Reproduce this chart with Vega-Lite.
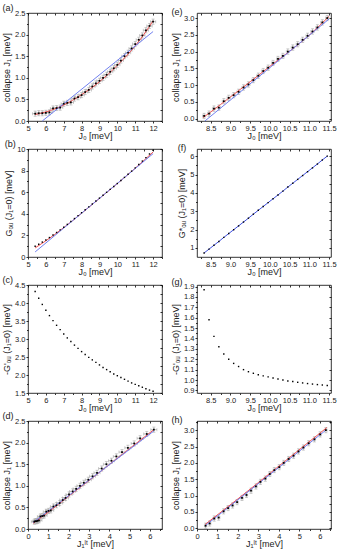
{
"$schema": "https://vega.github.io/schema/vega-lite/v6.json",
"padding": {"left": 2, "top": 3, "right": 2, "bottom": 2},
"columns": 2,
"spacing": {"row": 28, "column": 35},
"bounds": "flush",
"config": {
 "font": "Liberation Sans",
 "view": {"stroke": "#000", "strokeWidth": 0.8},
 "axis": {"grid": false, "domain": false, "tickColor": "#000", "tickSize": 2, "tickWidth": 0.8, "labelFontSize": 7.5, "labelColor": "#222", "labelPadding": 1, "titleFontSize": 9, "titleFontWeight": "normal", "titleColor": "#222", "labelFlush": false, "labelOverlap": false},
 "axisX": {"titlePadding": 0},
 "axisY": {"titlePadding": 3},
 "title": {"anchor": "start", "frame": "bounds", "fontSize": 9, "fontWeight": "normal", "offset": -4, "color": "#222"}
},
"datasets": {
 "a_pts": [
  {"x":5.4,"y":0.17,"ex":0.15,"ey":0.06},{"x":5.6,"y":0.18,"ex":0.15,"ey":0.06},{"x":5.8,"y":0.18,"ex":0.15,"ey":0.06},{"x":6.0,"y":0.19,"ex":0.15,"ey":0.06},{"x":6.2,"y":0.2,"ex":0.15,"ey":0.06},{"x":6.4,"y":0.29,"ex":0.15,"ey":0.06},{"x":6.6,"y":0.3,"ex":0.15,"ey":0.06},{"x":6.8,"y":0.31,"ex":0.15,"ey":0.06},{"x":7.0,"y":0.4,"ex":0.15,"ey":0.06},{"x":7.2,"y":0.42,"ex":0.15,"ey":0.06},{"x":7.4,"y":0.43,"ex":0.15,"ey":0.06},{"x":7.6,"y":0.52,"ex":0.15,"ey":0.06},{"x":7.8,"y":0.55,"ex":0.15,"ey":0.06},{"x":8.0,"y":0.6,"ex":0.15,"ey":0.06},{"x":8.2,"y":0.67,"ex":0.15,"ey":0.06},{"x":8.4,"y":0.72,"ex":0.15,"ey":0.06},{"x":8.6,"y":0.8,"ex":0.15,"ey":0.06},{"x":8.8,"y":0.87,"ex":0.15,"ey":0.06},{"x":9.0,"y":0.93,"ex":0.15,"ey":0.06},{"x":9.2,"y":1.0,"ex":0.15,"ey":0.06},{"x":9.4,"y":1.07,"ex":0.15,"ey":0.06},{"x":9.6,"y":1.14,"ex":0.15,"ey":0.06},{"x":9.8,"y":1.22,"ex":0.15,"ey":0.06},{"x":10.0,"y":1.3,"ex":0.15,"ey":0.06},{"x":10.2,"y":1.4,"ex":0.15,"ey":0.06},{"x":10.4,"y":1.5,"ex":0.15,"ey":0.06},{"x":10.6,"y":1.58,"ex":0.15,"ey":0.06},{"x":10.8,"y":1.68,"ex":0.15,"ey":0.06},{"x":11.0,"y":1.78,"ex":0.15,"ey":0.06},{"x":11.2,"y":1.88,"ex":0.15,"ey":0.06},{"x":11.4,"y":1.98,"ex":0.15,"ey":0.06},{"x":11.6,"y":2.1,"ex":0.15,"ey":0.06},{"x":11.8,"y":2.2,"ex":0.15,"ey":0.06},{"x":12.0,"y":2.3,"ex":0.15,"ey":0.06}
 ],
 "a_red": [{"x":5.4,"y":0.15},{"x":6.0,"y":0.21},{"x":6.5,"y":0.28},{"x":7.0,"y":0.37},{"x":7.5,"y":0.48},{"x":8.0,"y":0.61},{"x":8.5,"y":0.75},{"x":9.0,"y":0.91},{"x":9.5,"y":1.09},{"x":10.0,"y":1.29},{"x":10.5,"y":1.5},{"x":11.0,"y":1.74},{"x":11.5,"y":2.01},{"x":12.0,"y":2.32}],
 "a_blue": [{"x":5.8,"y":0.0},{"x":12.0,"y":2.07}],
 "b_pts": [
  {"x":5.4,"y":1.0},{"x":5.6,"y":1.18},{"x":5.8,"y":1.38},{"x":6.0,"y":1.58},{"x":6.2,"y":1.8},{"x":6.4,"y":2.03},{"x":6.6,"y":2.27},{"x":6.8,"y":2.51},{"x":7.0,"y":2.75},{"x":7.2,"y":3.02},{"x":7.4,"y":3.29},{"x":7.6,"y":3.56},{"x":7.8,"y":3.83},{"x":8.0,"y":4.1},{"x":8.2,"y":4.37},{"x":8.4,"y":4.64},{"x":8.6,"y":4.91},{"x":8.8,"y":5.18},{"x":9.0,"y":5.45},{"x":9.2,"y":5.72},{"x":9.4,"y":5.99},{"x":9.6,"y":6.26},{"x":9.8,"y":6.53},{"x":10.0,"y":6.8},{"x":10.2,"y":7.08},{"x":10.4,"y":7.37},{"x":10.6,"y":7.66},{"x":10.8,"y":7.95},{"x":11.0,"y":8.25},{"x":11.2,"y":8.56},{"x":11.4,"y":8.88},{"x":11.6,"y":9.2},{"x":11.8,"y":9.54},{"x":12.0,"y":9.88}
 ],
 "b_red": [{"x":5.4,"y":0.84},{"x":6.0,"y":1.5},{"x":7.0,"y":2.72},{"x":8.0,"y":4.05},{"x":9.0,"y":5.42},{"x":10.0,"y":6.8},{"x":11.0,"y":8.22},{"x":12.0,"y":9.72}],
 "b_blue": [{"x":5.4,"y":0.47},{"x":12.0,"y":9.57}],
 "c_pts": [
  {"x":5.4,"y":4.32},{"x":5.6,"y":4.13},{"x":5.8,"y":3.96},{"x":6.0,"y":3.8},{"x":6.2,"y":3.65},{"x":6.4,"y":3.51},{"x":6.6,"y":3.38},{"x":6.8,"y":3.26},{"x":7.0,"y":3.14},{"x":7.2,"y":3.03},{"x":7.4,"y":2.93},{"x":7.6,"y":2.83},{"x":7.8,"y":2.74},{"x":8.0,"y":2.65},{"x":8.2,"y":2.57},{"x":8.4,"y":2.49},{"x":8.6,"y":2.42},{"x":8.8,"y":2.35},{"x":9.0,"y":2.28},{"x":9.2,"y":2.21},{"x":9.4,"y":2.15},{"x":9.6,"y":2.09},{"x":9.8,"y":2.03},{"x":10.0,"y":1.98},{"x":10.2,"y":1.93},{"x":10.4,"y":1.88},{"x":10.6,"y":1.83},{"x":10.8,"y":1.78},{"x":11.0,"y":1.74},{"x":11.2,"y":1.7},{"x":11.4,"y":1.66},{"x":11.6,"y":1.62},{"x":11.8,"y":1.58},{"x":12.0,"y":1.55}
 ],
 "d_pts": [
  {"x":0.31,"y":0.17,"ex":0.15,"ey":0.06},{"x":0.36,"y":0.18,"ex":0.15,"ey":0.06},{"x":0.42,"y":0.18,"ex":0.15,"ey":0.06},{"x":0.47,"y":0.19,"ex":0.15,"ey":0.06},{"x":0.54,"y":0.2,"ex":0.15,"ey":0.06},{"x":0.61,"y":0.29,"ex":0.15,"ey":0.06},{"x":0.7,"y":0.3,"ex":0.15,"ey":0.06},{"x":0.79,"y":0.31,"ex":0.15,"ey":0.06},{"x":0.9,"y":0.4,"ex":0.15,"ey":0.06},{"x":1.01,"y":0.42,"ex":0.15,"ey":0.06},{"x":1.12,"y":0.43,"ex":0.15,"ey":0.06},{"x":1.25,"y":0.52,"ex":0.15,"ey":0.06},{"x":1.4,"y":0.55,"ex":0.15,"ey":0.06},{"x":1.56,"y":0.6,"ex":0.15,"ey":0.06},{"x":1.71,"y":0.67,"ex":0.15,"ey":0.06},{"x":1.85,"y":0.72,"ex":0.15,"ey":0.06},{"x":2.02,"y":0.8,"ex":0.15,"ey":0.06},{"x":2.2,"y":0.87,"ex":0.15,"ey":0.06},{"x":2.37,"y":0.93,"ex":0.15,"ey":0.06},{"x":2.56,"y":1.0,"ex":0.15,"ey":0.06},{"x":2.75,"y":1.07,"ex":0.15,"ey":0.06},{"x":2.97,"y":1.14,"ex":0.15,"ey":0.06},{"x":3.18,"y":1.22,"ex":0.15,"ey":0.06},{"x":3.4,"y":1.3,"ex":0.15,"ey":0.06},{"x":3.63,"y":1.4,"ex":0.15,"ey":0.06},{"x":3.86,"y":1.5,"ex":0.15,"ey":0.06},{"x":4.11,"y":1.58,"ex":0.15,"ey":0.06},{"x":4.35,"y":1.68,"ex":0.15,"ey":0.06},{"x":4.63,"y":1.78,"ex":0.15,"ey":0.06},{"x":4.92,"y":1.88,"ex":0.15,"ey":0.06},{"x":5.23,"y":1.98,"ex":0.15,"ey":0.06},{"x":5.52,"y":2.1,"ex":0.15,"ey":0.06},{"x":5.85,"y":2.2,"ex":0.15,"ey":0.06},{"x":6.2,"y":2.3,"ex":0.15,"ey":0.06}
 ],
 "d_red": [{"x":0.25,"y":0.13},{"x":1.0,"y":0.39},{"x":2.0,"y":0.76},{"x":3.0,"y":1.12},{"x":4.0,"y":1.49},{"x":5.0,"y":1.86},{"x":6.2,"y":2.3}],
 "d_blue": [{"x":0.25,"y":0.15},{"x":6.2,"y":2.27}],
 "e_pts": [
  {"x":8.33,"y":0.08,"ex":0.04,"ey":0.08},{"x":8.455,"y":0.15,"ex":0.04,"ey":0.08},{"x":8.58,"y":0.3,"ex":0.04,"ey":0.08},{"x":8.705,"y":0.33,"ex":0.04,"ey":0.08},{"x":8.83,"y":0.52,"ex":0.04,"ey":0.08},{"x":8.955,"y":0.62,"ex":0.04,"ey":0.08},{"x":9.08,"y":0.7,"ex":0.04,"ey":0.08},{"x":9.205,"y":0.8,"ex":0.04,"ey":0.08},{"x":9.33,"y":0.93,"ex":0.04,"ey":0.08},{"x":9.455,"y":1.02,"ex":0.04,"ey":0.08},{"x":9.58,"y":1.15,"ex":0.04,"ey":0.08},{"x":9.705,"y":1.28,"ex":0.04,"ey":0.08},{"x":9.83,"y":1.42,"ex":0.04,"ey":0.08},{"x":9.955,"y":1.52,"ex":0.04,"ey":0.08},{"x":10.08,"y":1.66,"ex":0.04,"ey":0.08},{"x":10.205,"y":1.78,"ex":0.04,"ey":0.08},{"x":10.33,"y":1.87,"ex":0.04,"ey":0.08},{"x":10.455,"y":2.0,"ex":0.04,"ey":0.08},{"x":10.58,"y":2.12,"ex":0.04,"ey":0.08},{"x":10.705,"y":2.22,"ex":0.04,"ey":0.08},{"x":10.83,"y":2.35,"ex":0.04,"ey":0.08},{"x":10.955,"y":2.47,"ex":0.04,"ey":0.08},{"x":11.08,"y":2.6,"ex":0.04,"ey":0.08},{"x":11.205,"y":2.72,"ex":0.04,"ey":0.08},{"x":11.33,"y":2.87,"ex":0.04,"ey":0.08},{"x":11.455,"y":3.0,"ex":0.04,"ey":0.08}
 ],
 "e_red": [{"x":8.3,"y":0.03},{"x":8.5,"y":0.2},{"x":9.0,"y":0.65},{"x":9.5,"y":1.1},{"x":10.0,"y":1.56},{"x":10.5,"y":2.01},{"x":11.0,"y":2.49},{"x":11.5,"y":3.05}],
 "e_blue": [{"x":8.35,"y":-0.07},{"x":11.5,"y":2.97}],
 "f_pts": [
  {"x":8.33,"y":0.72},{"x":8.455,"y":0.93},{"x":8.58,"y":1.14},{"x":8.705,"y":1.35},{"x":8.83,"y":1.57},{"x":8.955,"y":1.78},{"x":9.08,"y":1.99},{"x":9.205,"y":2.2},{"x":9.33,"y":2.41},{"x":9.455,"y":2.62},{"x":9.58,"y":2.84},{"x":9.705,"y":3.05},{"x":9.83,"y":3.26},{"x":9.955,"y":3.47},{"x":10.08,"y":3.68},{"x":10.205,"y":3.89},{"x":10.33,"y":4.1},{"x":10.455,"y":4.32},{"x":10.58,"y":4.53},{"x":10.705,"y":4.74},{"x":10.83,"y":4.95},{"x":10.955,"y":5.16},{"x":11.08,"y":5.37},{"x":11.205,"y":5.58},{"x":11.33,"y":5.8},{"x":11.455,"y":6.01}
 ],
 "g_pts": [
  {"x":8.33,"y":1.87},{"x":8.455,"y":1.58},{"x":8.58,"y":1.42},{"x":8.705,"y":1.32},{"x":8.83,"y":1.25},{"x":8.955,"y":1.2},{"x":9.08,"y":1.16},{"x":9.205,"y":1.13},{"x":9.33,"y":1.1},{"x":9.455,"y":1.08},{"x":9.58,"y":1.065},{"x":9.705,"y":1.05},{"x":9.83,"y":1.04},{"x":9.955,"y":1.03},{"x":10.08,"y":1.02},{"x":10.205,"y":1.01},{"x":10.33,"y":1.0},{"x":10.455,"y":0.99},{"x":10.58,"y":0.985},{"x":10.705,"y":0.978},{"x":10.83,"y":0.972},{"x":10.955,"y":0.966},{"x":11.08,"y":0.961},{"x":11.205,"y":0.956},{"x":11.33,"y":0.952},{"x":11.455,"y":0.948}
 ],
 "h_pts": [
  {"x":0.42,"y":0.08,"ex":0.06,"ey":0.08},{"x":0.62,"y":0.15,"ex":0.06,"ey":0.08},{"x":0.84,"y":0.3,"ex":0.06,"ey":0.08},{"x":1.06,"y":0.33,"ex":0.06,"ey":0.08},{"x":1.3,"y":0.52,"ex":0.06,"ey":0.08},{"x":1.52,"y":0.62,"ex":0.06,"ey":0.08},{"x":1.74,"y":0.7,"ex":0.06,"ey":0.08},{"x":1.96,"y":0.8,"ex":0.06,"ey":0.08},{"x":2.2,"y":0.93,"ex":0.06,"ey":0.08},{"x":2.42,"y":1.02,"ex":0.06,"ey":0.08},{"x":2.64,"y":1.15,"ex":0.06,"ey":0.08},{"x":2.88,"y":1.28,"ex":0.06,"ey":0.08},{"x":3.1,"y":1.42,"ex":0.06,"ey":0.08},{"x":3.34,"y":1.52,"ex":0.06,"ey":0.08},{"x":3.56,"y":1.66,"ex":0.06,"ey":0.08},{"x":3.78,"y":1.78,"ex":0.06,"ey":0.08},{"x":4.02,"y":1.87,"ex":0.06,"ey":0.08},{"x":4.24,"y":2.0,"ex":0.06,"ey":0.08},{"x":4.48,"y":2.12,"ex":0.06,"ey":0.08},{"x":4.72,"y":2.22,"ex":0.06,"ey":0.08},{"x":4.96,"y":2.35,"ex":0.06,"ey":0.08},{"x":5.2,"y":2.47,"ex":0.06,"ey":0.08},{"x":5.46,"y":2.6,"ex":0.06,"ey":0.08},{"x":5.74,"y":2.72,"ex":0.06,"ey":0.08},{"x":6.02,"y":2.87,"ex":0.06,"ey":0.08},{"x":6.3,"y":3.0,"ex":0.06,"ey":0.08}
 ],
 "h_red": [{"x":0.4,"y":0.12},{"x":2.0,"y":0.9},{"x":4.0,"y":1.9},{"x":6.35,"y":3.08}],
 "h_blue": [{"x":0.4,"y":0.08},{"x":6.3,"y":3.0}]
},
"concat": [
 {"title": "(a)", "width": 134, "height": 108,
  "resolve": {"axis": {"x": "independent", "y": "independent"}},
  "layer": [
   {"data": {"name": "a_pts"}, "mark": {"type": "errorbar", "ticks": {"size": 3}, "color": "#aaa", "thickness": 0.8},
    "encoding": {"x": {"field": "x", "type": "quantitative", "scale": {"domain": [5, 12.5], "nice": false, "zero": false}, "axis": {"values": [5,6,7,8,9,10,11,12], "title": "J₀ [meV]"}}, "xError": {"field": "ex"},
                 "y": {"field": "y", "type": "quantitative", "scale": {"domain": [0, 2.5], "nice": false, "zero": false}, "axis": {"values": [0,0.5,1,1.5,2,2.5], "format": ".1f", "title": "collapse J₁ [meV]"}}}},
   {"data": {"name": "a_pts"}, "mark": {"type": "errorbar", "ticks": {"size": 3}, "color": "#aaa", "thickness": 0.8},
    "encoding": {"x": {"field": "x", "type": "quantitative", "scale": {"domain": [5, 12.5], "nice": false, "zero": false}, "axis": null},
                 "y": {"field": "y", "type": "quantitative", "scale": {"domain": [0, 2.5], "nice": false, "zero": false}, "axis": null}, "yError": {"field": "ey"}}},
   {"data": {"name": "a_red"}, "mark": {"type": "line", "color": "#f05050", "strokeWidth": 1, "interpolate": "monotone"},
    "encoding": {"x": {"field": "x", "type": "quantitative", "scale": {"domain": [5, 12.5], "nice": false, "zero": false}, "axis": null},
                 "y": {"field": "y", "type": "quantitative", "scale": {"domain": [0, 2.5], "nice": false, "zero": false}, "axis": null}}},
   {"data": {"name": "a_blue"}, "mark": {"type": "line", "color": "#7080f0", "strokeWidth": 1},
    "encoding": {"x": {"field": "x", "type": "quantitative", "scale": {"domain": [5, 12.5], "nice": false, "zero": false}, "axis": null},
                 "y": {"field": "y", "type": "quantitative", "scale": {"domain": [0, 2.5], "nice": false, "zero": false}, "axis": null}}},
   {"data": {"name": "a_pts"}, "mark": {"type": "square", "color": "#000", "size": 3, "opacity": 1},
    "encoding": {"x": {"field": "x", "type": "quantitative", "scale": {"domain": [5, 12.5], "nice": false, "zero": false}, "axis": null},
                 "y": {"field": "y", "type": "quantitative", "scale": {"domain": [0, 2.5], "nice": false, "zero": false}, "axis": null}}},
   {"data": {"name": "a_pts"}, "mark": {"type": "point", "opacity": 0},
    "encoding": {"x": {"field": "x", "type": "quantitative", "scale": {"domain": [5, 12.5], "nice": false, "zero": false}, "axis": {"orient": "top", "labels": false, "title": null, "tickSize": -2, "values": [5,5.5,6,6.5,7,7.5,8,8.5,9,9.5,10,10.5,11,11.5,12,12.5]}},
                 "y": {"field": "y", "type": "quantitative", "scale": {"domain": [0, 2.5], "nice": false, "zero": false}, "axis": {"orient": "right", "labels": false, "title": null, "tickSize": -2, "values": [0,0.25,0.5,0.75,1,1.25,1.5,1.75,2,2.25,2.5]}}}},
   {"data": {"name": "a_pts"}, "mark": {"type": "point", "opacity": 0},
    "encoding": {"x": {"field": "x", "type": "quantitative", "scale": {"domain": [5, 12.5], "nice": false, "zero": false}, "axis": {"orient": "bottom", "labels": false, "title": null, "tickSize": 1.5, "values": [5.5,6.5,7.5,8.5,9.5,10.5,11.5,12.5]}},
                 "y": {"field": "y", "type": "quantitative", "scale": {"domain": [0, 2.5], "nice": false, "zero": false}, "axis": {"orient": "left", "labels": false, "title": null, "tickSize": 1.5, "values": [0.25,0.75,1.25,1.75,2.25]}}}}
  ]},
 {"title": "(e)", "width": 134, "height": 108,
  "resolve": {"axis": {"x": "independent", "y": "independent"}},
  "layer": [
   {"data": {"name": "e_pts"}, "mark": {"type": "errorbar", "ticks": {"size": 3}, "color": "#aaa", "thickness": 0.8},
    "encoding": {"x": {"field": "x", "type": "quantitative", "scale": {"domain": [8.15, 11.55], "nice": false, "zero": false}, "axis": {"values": [8.5,9,9.5,10,10.5,11,11.5], "format": ".1f", "title": "J₀ [meV]"}}, "xError": {"field": "ex"},
                 "y": {"field": "y", "type": "quantitative", "scale": {"domain": [-0.07, 3.15], "nice": false, "zero": false}, "axis": {"values": [0,0.5,1,1.5,2,2.5,3], "format": ".1f", "title": "collapse J₁ [meV]"}}}},
   {"data": {"name": "e_pts"}, "mark": {"type": "errorbar", "ticks": {"size": 3}, "color": "#aaa", "thickness": 0.8},
    "encoding": {"x": {"field": "x", "type": "quantitative", "scale": {"domain": [8.15, 11.55], "nice": false, "zero": false}, "axis": null},
                 "y": {"field": "y", "type": "quantitative", "scale": {"domain": [-0.07, 3.15], "nice": false, "zero": false}, "axis": null}, "yError": {"field": "ey"}}},
   {"data": {"name": "e_red"}, "mark": {"type": "line", "color": "#f05050", "strokeWidth": 1, "interpolate": "monotone"},
    "encoding": {"x": {"field": "x", "type": "quantitative", "scale": {"domain": [8.15, 11.55], "nice": false, "zero": false}, "axis": null},
                 "y": {"field": "y", "type": "quantitative", "scale": {"domain": [-0.07, 3.15], "nice": false, "zero": false}, "axis": null}}},
   {"data": {"name": "e_blue"}, "mark": {"type": "line", "color": "#7080f0", "strokeWidth": 1},
    "encoding": {"x": {"field": "x", "type": "quantitative", "scale": {"domain": [8.15, 11.55], "nice": false, "zero": false}, "axis": null},
                 "y": {"field": "y", "type": "quantitative", "scale": {"domain": [-0.07, 3.15], "nice": false, "zero": false}, "axis": null}}},
   {"data": {"name": "e_pts"}, "mark": {"type": "square", "color": "#000", "size": 3, "opacity": 1},
    "encoding": {"x": {"field": "x", "type": "quantitative", "scale": {"domain": [8.15, 11.55], "nice": false, "zero": false}, "axis": null},
                 "y": {"field": "y", "type": "quantitative", "scale": {"domain": [-0.07, 3.15], "nice": false, "zero": false}, "axis": null}}},
   {"data": {"name": "e_pts"}, "mark": {"type": "point", "opacity": 0},
    "encoding": {"x": {"field": "x", "type": "quantitative", "scale": {"domain": [8.15, 11.55], "nice": false, "zero": false}, "axis": {"orient": "top", "labels": false, "title": null, "tickSize": -2, "values": [8.25,8.5,8.75,9,9.25,9.5,9.75,10,10.25,10.5,10.75,11,11.25,11.5]}},
                 "y": {"field": "y", "type": "quantitative", "scale": {"domain": [-0.07, 3.15], "nice": false, "zero": false}, "axis": {"orient": "right", "labels": false, "title": null, "tickSize": -2, "values": [0,0.25,0.5,0.75,1,1.25,1.5,1.75,2,2.25,2.5,2.75,3]}}}},
   {"data": {"name": "e_pts"}, "mark": {"type": "point", "opacity": 0},
    "encoding": {"x": {"field": "x", "type": "quantitative", "scale": {"domain": [8.15, 11.55], "nice": false, "zero": false}, "axis": {"orient": "bottom", "labels": false, "title": null, "tickSize": 1.5, "values": [8.25,8.75,9.25,9.75,10.25,10.75,11.25]}},
                 "y": {"field": "y", "type": "quantitative", "scale": {"domain": [-0.07, 3.15], "nice": false, "zero": false}, "axis": {"orient": "left", "labels": false, "title": null, "tickSize": 1.5, "values": [0.25,0.75,1.25,1.75,2.25,2.75]}}}}
  ]},
 {"title": "(b)", "width": 134, "height": 108,
  "resolve": {"axis": {"x": "independent", "y": "independent"}},
  "layer": [
   {"data": {"name": "b_red"}, "mark": {"type": "line", "color": "#f05050", "strokeWidth": 1, "interpolate": "monotone"},
    "encoding": {"x": {"field": "x", "type": "quantitative", "scale": {"domain": [5, 12.5], "nice": false, "zero": false}, "axis": {"values": [5,6,7,8,9,10,11,12], "title": "J₀ [meV]"}},
                 "y": {"field": "y", "type": "quantitative", "scale": {"domain": [0, 10], "nice": false, "zero": false}, "axis": {"values": [0,2,4,6,8,10], "title": "Gₒᵤ (J₁=0) [meV]"}}}},
   {"data": {"name": "b_blue"}, "mark": {"type": "line", "color": "#7080f0", "strokeWidth": 1},
    "encoding": {"x": {"field": "x", "type": "quantitative", "scale": {"domain": [5, 12.5], "nice": false, "zero": false}, "axis": null},
                 "y": {"field": "y", "type": "quantitative", "scale": {"domain": [0, 10], "nice": false, "zero": false}, "axis": null}}},
   {"data": {"name": "b_pts"}, "mark": {"type": "square", "color": "#000", "size": 2, "opacity": 1},
    "encoding": {"x": {"field": "x", "type": "quantitative", "scale": {"domain": [5, 12.5], "nice": false, "zero": false}, "axis": null},
                 "y": {"field": "y", "type": "quantitative", "scale": {"domain": [0, 10], "nice": false, "zero": false}, "axis": null}}},
   {"data": {"name": "b_pts"}, "mark": {"type": "point", "opacity": 0},
    "encoding": {"x": {"field": "x", "type": "quantitative", "scale": {"domain": [5, 12.5], "nice": false, "zero": false}, "axis": {"orient": "top", "labels": false, "title": null, "tickSize": -2, "values": [5,5.5,6,6.5,7,7.5,8,8.5,9,9.5,10,10.5,11,11.5,12,12.5]}},
                 "y": {"field": "y", "type": "quantitative", "scale": {"domain": [0, 10], "nice": false, "zero": false}, "axis": {"orient": "right", "labels": false, "title": null, "tickSize": -2, "values": [0,1,2,3,4,5,6,7,8,9,10]}}}},
   {"data": {"name": "b_pts"}, "mark": {"type": "point", "opacity": 0},
    "encoding": {"x": {"field": "x", "type": "quantitative", "scale": {"domain": [5, 12.5], "nice": false, "zero": false}, "axis": {"orient": "bottom", "labels": false, "title": null, "tickSize": 1.5, "values": [5.5,6.5,7.5,8.5,9.5,10.5,11.5,12.5]}},
                 "y": {"field": "y", "type": "quantitative", "scale": {"domain": [0, 10], "nice": false, "zero": false}, "axis": {"orient": "left", "labels": false, "title": null, "tickSize": 1.5, "values": [1,3,5,7,9]}}}}
  ]},
 {"title": "(f)", "width": 134, "height": 108,
  "resolve": {"axis": {"x": "independent", "y": "independent"}},
  "layer": [
   {"data": {"name": "f_pts"}, "mark": {"type": "line", "color": "#4050e0", "strokeWidth": 1},
    "encoding": {"x": {"field": "x", "type": "quantitative", "scale": {"domain": [8.15, 11.55], "nice": false, "zero": false}, "axis": {"values": [8.5,9,9.5,10,10.5,11,11.5], "format": ".1f", "title": "J₀ [meV]"}},
                 "y": {"field": "y", "type": "quantitative", "scale": {"domain": [0.5, 6.4], "nice": false, "zero": false}, "axis": {"values": [1,2,3,4,5,6], "title": "G*ₒᵤ (J₁=0) [meV]"}}}},
   {"data": {"name": "f_pts"}, "mark": {"type": "square", "color": "#000", "size": 2, "opacity": 1},
    "encoding": {"x": {"field": "x", "type": "quantitative", "scale": {"domain": [8.15, 11.55], "nice": false, "zero": false}, "axis": null},
                 "y": {"field": "y", "type": "quantitative", "scale": {"domain": [0.5, 6.4], "nice": false, "zero": false}, "axis": null}}},
   {"data": {"name": "f_pts"}, "mark": {"type": "point", "opacity": 0},
    "encoding": {"x": {"field": "x", "type": "quantitative", "scale": {"domain": [8.15, 11.55], "nice": false, "zero": false}, "axis": {"orient": "top", "labels": false, "title": null, "tickSize": -2, "values": [8.25,8.5,8.75,9,9.25,9.5,9.75,10,10.25,10.5,10.75,11,11.25,11.5]}},
                 "y": {"field": "y", "type": "quantitative", "scale": {"domain": [0.5, 6.4], "nice": false, "zero": false}, "axis": {"orient": "right", "labels": false, "title": null, "tickSize": -2, "values": [1,1.5,2,2.5,3,3.5,4,4.5,5,5.5,6]}}}},
   {"data": {"name": "f_pts"}, "mark": {"type": "point", "opacity": 0},
    "encoding": {"x": {"field": "x", "type": "quantitative", "scale": {"domain": [8.15, 11.55], "nice": false, "zero": false}, "axis": {"orient": "bottom", "labels": false, "title": null, "tickSize": 1.5, "values": [8.25,8.75,9.25,9.75,10.25,10.75,11.25]}},
                 "y": {"field": "y", "type": "quantitative", "scale": {"domain": [0.5, 6.4], "nice": false, "zero": false}, "axis": {"orient": "left", "labels": false, "title": null, "tickSize": 1.5, "values": [1.5,2.5,3.5,4.5,5.5]}}}}
  ]},
 {"title": "(c)", "width": 134, "height": 108,
  "resolve": {"axis": {"x": "independent", "y": "independent"}},
  "layer": [
   {"data": {"name": "c_pts"}, "mark": {"type": "square", "color": "#000", "size": 2, "opacity": 1},
    "encoding": {"x": {"field": "x", "type": "quantitative", "scale": {"domain": [5, 12.5], "nice": false, "zero": false}, "axis": {"values": [5,6,7,8,9,10,11,12], "title": "J₀ [meV]"}},
                 "y": {"field": "y", "type": "quantitative", "scale": {"domain": [1.5, 4.5], "nice": false, "zero": false}, "axis": {"values": [1.5,2,2.5,3,3.5,4,4.5], "format": ".1f", "title": "-G'ₒᵤ (J₁=0) [meV]"}}}},
   {"data": {"name": "c_pts"}, "mark": {"type": "point", "opacity": 0},
    "encoding": {"x": {"field": "x", "type": "quantitative", "scale": {"domain": [5, 12.5], "nice": false, "zero": false}, "axis": {"orient": "top", "labels": false, "title": null, "tickSize": -2, "values": [5,5.5,6,6.5,7,7.5,8,8.5,9,9.5,10,10.5,11,11.5,12,12.5]}},
                 "y": {"field": "y", "type": "quantitative", "scale": {"domain": [1.5, 4.5], "nice": false, "zero": false}, "axis": {"orient": "right", "labels": false, "title": null, "tickSize": -2, "values": [1.5,1.75,2,2.25,2.5,2.75,3,3.25,3.5,3.75,4,4.25,4.5]}}}},
   {"data": {"name": "c_pts"}, "mark": {"type": "point", "opacity": 0},
    "encoding": {"x": {"field": "x", "type": "quantitative", "scale": {"domain": [5, 12.5], "nice": false, "zero": false}, "axis": {"orient": "bottom", "labels": false, "title": null, "tickSize": 1.5, "values": [5.5,6.5,7.5,8.5,9.5,10.5,11.5,12.5]}},
                 "y": {"field": "y", "type": "quantitative", "scale": {"domain": [1.5, 4.5], "nice": false, "zero": false}, "axis": {"orient": "left", "labels": false, "title": null, "tickSize": 1.5, "values": [1.75,2.25,2.75,3.25,3.75,4.25]}}}}
  ]},
 {"title": "(g)", "width": 134, "height": 108,
  "resolve": {"axis": {"x": "independent", "y": "independent"}},
  "layer": [
   {"data": {"name": "g_pts"}, "mark": {"type": "square", "color": "#000", "size": 2, "opacity": 1},
    "encoding": {"x": {"field": "x", "type": "quantitative", "scale": {"domain": [8.15, 11.55], "nice": false, "zero": false}, "axis": {"values": [8.5,9,9.5,10,10.5,11,11.5], "format": ".1f", "title": "J₀ [meV]"}},
                 "y": {"field": "y", "type": "quantitative", "scale": {"domain": [0.875, 1.915], "nice": false, "zero": false}, "axis": {"values": [0.9,1.0,1.1,1.2,1.3,1.4,1.5,1.6,1.7,1.8,1.9], "format": ".1f", "title": "-G'ₒᵤ (J₁=0) [meV]"}}}},
   {"data": {"name": "g_pts"}, "mark": {"type": "point", "opacity": 0},
    "encoding": {"x": {"field": "x", "type": "quantitative", "scale": {"domain": [8.15, 11.55], "nice": false, "zero": false}, "axis": {"orient": "top", "labels": false, "title": null, "tickSize": -2, "values": [8.25,8.5,8.75,9,9.25,9.5,9.75,10,10.25,10.5,10.75,11,11.25,11.5]}},
                 "y": {"field": "y", "type": "quantitative", "scale": {"domain": [0.875, 1.915], "nice": false, "zero": false}, "axis": {"orient": "right", "labels": false, "title": null, "tickSize": -2, "values": [0.9,1.0,1.1,1.2,1.3,1.4,1.5,1.6,1.7,1.8,1.9]}}}},
   {"data": {"name": "g_pts"}, "mark": {"type": "point", "opacity": 0},
    "encoding": {"x": {"field": "x", "type": "quantitative", "scale": {"domain": [8.15, 11.55], "nice": false, "zero": false}, "axis": {"orient": "bottom", "labels": false, "title": null, "tickSize": 1.5, "values": [8.25,8.75,9.25,9.75,10.25,10.75,11.25]}},
                 "y": {"field": "y", "type": "quantitative", "scale": {"domain": [0.875, 1.915], "nice": false, "zero": false}, "axis": {"orient": "left", "labels": false, "title": null, "tickSize": 1.5, "values": [0.95,1.05,1.15,1.25,1.35,1.45,1.55,1.65,1.75,1.85]}}}}
  ]},
 {"title": "(d)", "width": 134, "height": 108,
  "resolve": {"axis": {"x": "independent", "y": "independent"}},
  "layer": [
   {"data": {"name": "d_pts"}, "mark": {"type": "errorbar", "ticks": {"size": 3}, "color": "#aaa", "thickness": 0.8},
    "encoding": {"x": {"field": "x", "type": "quantitative", "scale": {"domain": [0, 6.6], "nice": false, "zero": false}, "axis": {"values": [0,1,2,3,4,5,6], "title": "J₁ˡᵗ [meV]"}}, "xError": {"field": "ex"},
                 "y": {"field": "y", "type": "quantitative", "scale": {"domain": [0, 2.5], "nice": false, "zero": false}, "axis": {"values": [0,0.5,1,1.5,2,2.5], "format": ".1f", "title": "collapse J₁ [meV]"}}}},
   {"data": {"name": "d_pts"}, "mark": {"type": "errorbar", "ticks": {"size": 3}, "color": "#aaa", "thickness": 0.8},
    "encoding": {"x": {"field": "x", "type": "quantitative", "scale": {"domain": [0, 6.6], "nice": false, "zero": false}, "axis": null},
                 "y": {"field": "y", "type": "quantitative", "scale": {"domain": [0, 2.5], "nice": false, "zero": false}, "axis": null}, "yError": {"field": "ey"}}},
   {"data": {"name": "d_red"}, "mark": {"type": "line", "color": "#f05050", "strokeWidth": 1, "interpolate": "monotone"},
    "encoding": {"x": {"field": "x", "type": "quantitative", "scale": {"domain": [0, 6.6], "nice": false, "zero": false}, "axis": null},
                 "y": {"field": "y", "type": "quantitative", "scale": {"domain": [0, 2.5], "nice": false, "zero": false}, "axis": null}}},
   {"data": {"name": "d_blue"}, "mark": {"type": "line", "color": "#7080f0", "strokeWidth": 1},
    "encoding": {"x": {"field": "x", "type": "quantitative", "scale": {"domain": [0, 6.6], "nice": false, "zero": false}, "axis": null},
                 "y": {"field": "y", "type": "quantitative", "scale": {"domain": [0, 2.5], "nice": false, "zero": false}, "axis": null}}},
   {"data": {"name": "d_pts"}, "mark": {"type": "square", "color": "#000", "size": 3, "opacity": 1},
    "encoding": {"x": {"field": "x", "type": "quantitative", "scale": {"domain": [0, 6.6], "nice": false, "zero": false}, "axis": null},
                 "y": {"field": "y", "type": "quantitative", "scale": {"domain": [0, 2.5], "nice": false, "zero": false}, "axis": null}}},
   {"data": {"name": "d_pts"}, "mark": {"type": "point", "opacity": 0},
    "encoding": {"x": {"field": "x", "type": "quantitative", "scale": {"domain": [0, 6.6], "nice": false, "zero": false}, "axis": {"orient": "top", "labels": false, "title": null, "tickSize": -2, "values": [0,0.5,1,1.5,2,2.5,3,3.5,4,4.5,5,5.5,6,6.5]}},
                 "y": {"field": "y", "type": "quantitative", "scale": {"domain": [0, 2.5], "nice": false, "zero": false}, "axis": {"orient": "right", "labels": false, "title": null, "tickSize": -2, "values": [0,0.25,0.5,0.75,1,1.25,1.5,1.75,2,2.25,2.5]}}}},
   {"data": {"name": "d_pts"}, "mark": {"type": "point", "opacity": 0},
    "encoding": {"x": {"field": "x", "type": "quantitative", "scale": {"domain": [0, 6.6], "nice": false, "zero": false}, "axis": {"orient": "bottom", "labels": false, "title": null, "tickSize": 1.5, "values": [0.5,1.5,2.5,3.5,4.5,5.5,6.5]}},
                 "y": {"field": "y", "type": "quantitative", "scale": {"domain": [0, 2.5], "nice": false, "zero": false}, "axis": {"orient": "left", "labels": false, "title": null, "tickSize": 1.5, "values": [0.25,0.75,1.25,1.75,2.25]}}}}
  ]},
 {"title": "(h)", "width": 134, "height": 108,
  "resolve": {"axis": {"x": "independent", "y": "independent"}},
  "layer": [
   {"data": {"name": "h_pts"}, "mark": {"type": "errorbar", "ticks": {"size": 3}, "color": "#aaa", "thickness": 0.8},
    "encoding": {"x": {"field": "x", "type": "quantitative", "scale": {"domain": [0, 6.55], "nice": false, "zero": false}, "axis": {"values": [0,1,2,3,4,5,6], "title": "J₁ˡᵗ [meV]"}}, "xError": {"field": "ex"},
                 "y": {"field": "y", "type": "quantitative", "scale": {"domain": [-0.02, 3.28], "nice": false, "zero": false}, "axis": {"values": [0,0.5,1,1.5,2,2.5,3], "format": ".1f", "title": "collapse J₁ [meV]"}}}},
   {"data": {"name": "h_pts"}, "mark": {"type": "errorbar", "ticks": {"size": 3}, "color": "#aaa", "thickness": 0.8},
    "encoding": {"x": {"field": "x", "type": "quantitative", "scale": {"domain": [0, 6.55], "nice": false, "zero": false}, "axis": null},
                 "y": {"field": "y", "type": "quantitative", "scale": {"domain": [-0.02, 3.28], "nice": false, "zero": false}, "axis": null}, "yError": {"field": "ey"}}},
   {"data": {"name": "h_red"}, "mark": {"type": "line", "color": "#f05050", "strokeWidth": 1, "interpolate": "monotone"},
    "encoding": {"x": {"field": "x", "type": "quantitative", "scale": {"domain": [0, 6.55], "nice": false, "zero": false}, "axis": null},
                 "y": {"field": "y", "type": "quantitative", "scale": {"domain": [-0.02, 3.28], "nice": false, "zero": false}, "axis": null}}},
   {"data": {"name": "h_blue"}, "mark": {"type": "line", "color": "#7080f0", "strokeWidth": 1},
    "encoding": {"x": {"field": "x", "type": "quantitative", "scale": {"domain": [0, 6.55], "nice": false, "zero": false}, "axis": null},
                 "y": {"field": "y", "type": "quantitative", "scale": {"domain": [-0.02, 3.28], "nice": false, "zero": false}, "axis": null}}},
   {"data": {"name": "h_pts"}, "mark": {"type": "square", "color": "#000", "size": 3, "opacity": 1},
    "encoding": {"x": {"field": "x", "type": "quantitative", "scale": {"domain": [0, 6.55], "nice": false, "zero": false}, "axis": null},
                 "y": {"field": "y", "type": "quantitative", "scale": {"domain": [-0.02, 3.28], "nice": false, "zero": false}, "axis": null}}},
   {"data": {"name": "h_pts"}, "mark": {"type": "point", "opacity": 0},
    "encoding": {"x": {"field": "x", "type": "quantitative", "scale": {"domain": [0, 6.55], "nice": false, "zero": false}, "axis": {"orient": "top", "labels": false, "title": null, "tickSize": -2, "values": [0,0.5,1,1.5,2,2.5,3,3.5,4,4.5,5,5.5,6,6.5]}},
                 "y": {"field": "y", "type": "quantitative", "scale": {"domain": [-0.02, 3.28], "nice": false, "zero": false}, "axis": {"orient": "right", "labels": false, "title": null, "tickSize": -2, "values": [0,0.25,0.5,0.75,1,1.25,1.5,1.75,2,2.25,2.5,2.75,3,3.25]}}}},
   {"data": {"name": "h_pts"}, "mark": {"type": "point", "opacity": 0},
    "encoding": {"x": {"field": "x", "type": "quantitative", "scale": {"domain": [0, 6.55], "nice": false, "zero": false}, "axis": {"orient": "bottom", "labels": false, "title": null, "tickSize": 1.5, "values": [0.5,1.5,2.5,3.5,4.5,5.5,6.5]}},
                 "y": {"field": "y", "type": "quantitative", "scale": {"domain": [-0.02, 3.28], "nice": false, "zero": false}, "axis": {"orient": "left", "labels": false, "title": null, "tickSize": 1.5, "values": [0.25,0.75,1.25,1.75,2.25,2.75,3.25]}}}}
  ]}
]
}
